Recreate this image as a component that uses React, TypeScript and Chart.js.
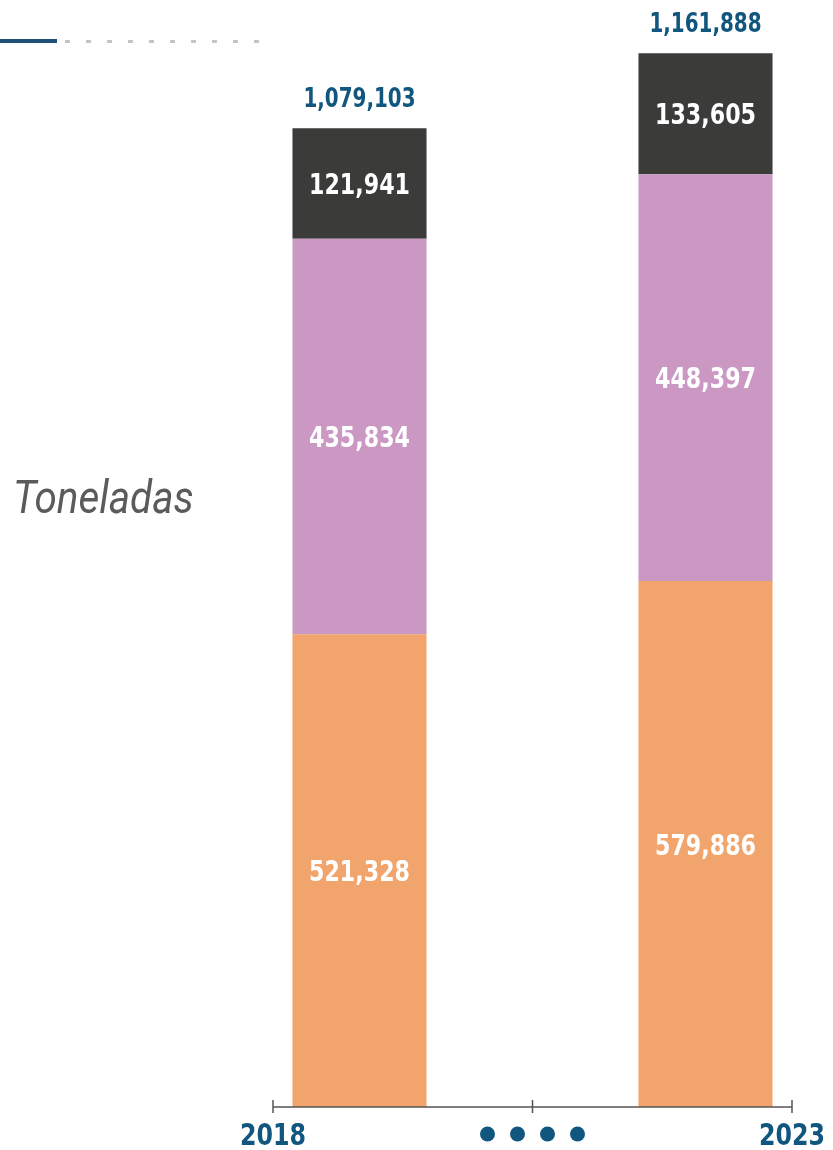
import React, { useEffect, useRef } from "react";
import { Chart, registerables } from "chart.js";

Chart.register(...registerables);

// ---- data ----
const categories = ["2018", "", "2023"];
const orangeValues = [521328, null, 579886];
const purpleValues = [435834, null, 448397];
const darkValues = [121941, null, 133605];
const axisTickLabels = ["2018", "", "2023"];
const unitLabel = "Toneladas";
const yMax = 1172000;

const BLUE = "#11567f";
const COND = "'DejaVu Sans Condensed', 'DejaVu Sans', sans-serif";

function fmt(n: number) {
  return n.toLocaleString("en-US");
}

function drawText(
  ctx: CanvasRenderingContext2D,
  text: string,
  x: number,
  y: number,
  font: string,
  color: string,
  sx: number,
  align: CanvasTextAlign = "center"
) {
  ctx.save();
  ctx.font = font;
  ctx.fillStyle = color;
  ctx.textAlign = align;
  ctx.textBaseline = "alphabetic";
  ctx.translate(x, y);
  ctx.scale(sx, 1);
  ctx.fillText(text, 0, 0);
  ctx.restore();
}

const decorPlugin = {
  id: "decor",
  afterDraw(chart: any) {
    const ctx: CanvasRenderingContext2D = chart.ctx;
    const area = chart.chartArea;

    // header decoration
    ctx.save();
    ctx.fillStyle = "#1d4f78";
    ctx.fillRect(0, 39, 57, 4);
    ctx.fillStyle = "#c4c4c4";
    for (let i = 0; i < 10; i++) {
      ctx.fillRect(65 + i * 21, 40, 5, 3);
    }
    ctx.restore();

    // unit label
    drawText(ctx, unitLabel, 13, 513, "italic 47px Roboto, 'Liberation Sans', sans-serif", "#5b5b5b", 0.86, "left");

    // segment labels
    const nDs = chart.data.datasets.length;
    for (let d = 0; d < nDs; d++) {
      const meta = chart.getDatasetMeta(d);
      meta.data.forEach((el: any, j: number) => {
        const v = chart.data.datasets[d].data[j];
        if (v == null) return;
        const cy = (el.y + el.base) / 2;
        drawText(ctx, fmt(v), el.x, cy + 10.5, `bold 29px ${COND}`, "#ffffff", 0.85);
      });
    }
    // totals
    const topMeta = chart.getDatasetMeta(nDs - 1);
    topMeta.data.forEach((el: any, j: number) => {
      let sum = 0;
      let any = false;
      chart.data.datasets.forEach((ds: any) => {
        const v = ds.data[j];
        if (v != null) {
          sum += v;
          any = true;
        }
      });
      if (!any) return;
      drawText(ctx, fmt(sum), el.x, el.y - 21, `bold 27px ${COND}`, BLUE, 0.82);
    });

    // axis
    const yb = area.bottom;
    ctx.save();
    ctx.strokeStyle = "#555555";
    ctx.lineWidth = 1.5;
    ctx.beginPath();
    ctx.moveTo(area.left, yb);
    ctx.lineTo(area.right, yb);
    const n = axisTickLabels.length;
    for (let i = 0; i < n; i++) {
      const tx = area.left + (i * (area.right - area.left)) / (n - 1);
      ctx.moveTo(tx, yb - 7);
      ctx.lineTo(tx, yb + 6);
    }
    ctx.stroke();
    ctx.restore();

    for (let i = 0; i < n; i++) {
      const tx = area.left + (i * (area.right - area.left)) / (n - 1);
      const lab = axisTickLabels[i];
      if (lab) {
        drawText(ctx, lab, tx, 1145, `bold 30px ${COND}`, BLUE, 0.88);
      } else {
        ctx.save();
        ctx.fillStyle = BLUE;
        for (let k = 0; k < 4; k++) {
          ctx.beginPath();
          ctx.arc(tx - 45 + k * 30, 1134, 7.5, 0, Math.PI * 2);
          ctx.fill();
        }
        ctx.restore();
      }
    }
  },
};

export default function App() {
  const ref = useRef<HTMLCanvasElement | null>(null);
  useEffect(() => {
    if (!ref.current) return;
    const chart = new Chart(ref.current, {
      type: "bar",
      data: {
        labels: categories,
        datasets: [
          { label: "a", data: orangeValues, backgroundColor: "#f1a56d" },
          { label: "b", data: purpleValues, backgroundColor: "#cb98c3" },
          { label: "c", data: darkValues, backgroundColor: "#3b3c3a" },
        ] as any,
      },
      options: {
        animation: false,
        responsive: true,
        maintainAspectRatio: false,
        layout: { padding: { left: 273, right: 41, top: 44, bottom: 43 } },
        datasets: { bar: { barPercentage: 0.775, categoryPercentage: 1 } },
        plugins: { legend: { display: false }, tooltip: { enabled: false } },
        scales: {
          x: { display: false, stacked: true, offset: true, grid: { display: false } },
          y: { display: false, stacked: true, min: 0, max: yMax },
        },
      },
      plugins: [decorPlugin],
    });
    return () => chart.destroy();
  }, []);
  return (
    <div style={{ position: "fixed", left: 0, top: 0, width: 833, height: 1150, background: "#fff" }}>
      <canvas ref={ref} />
    </div>
  );
}
